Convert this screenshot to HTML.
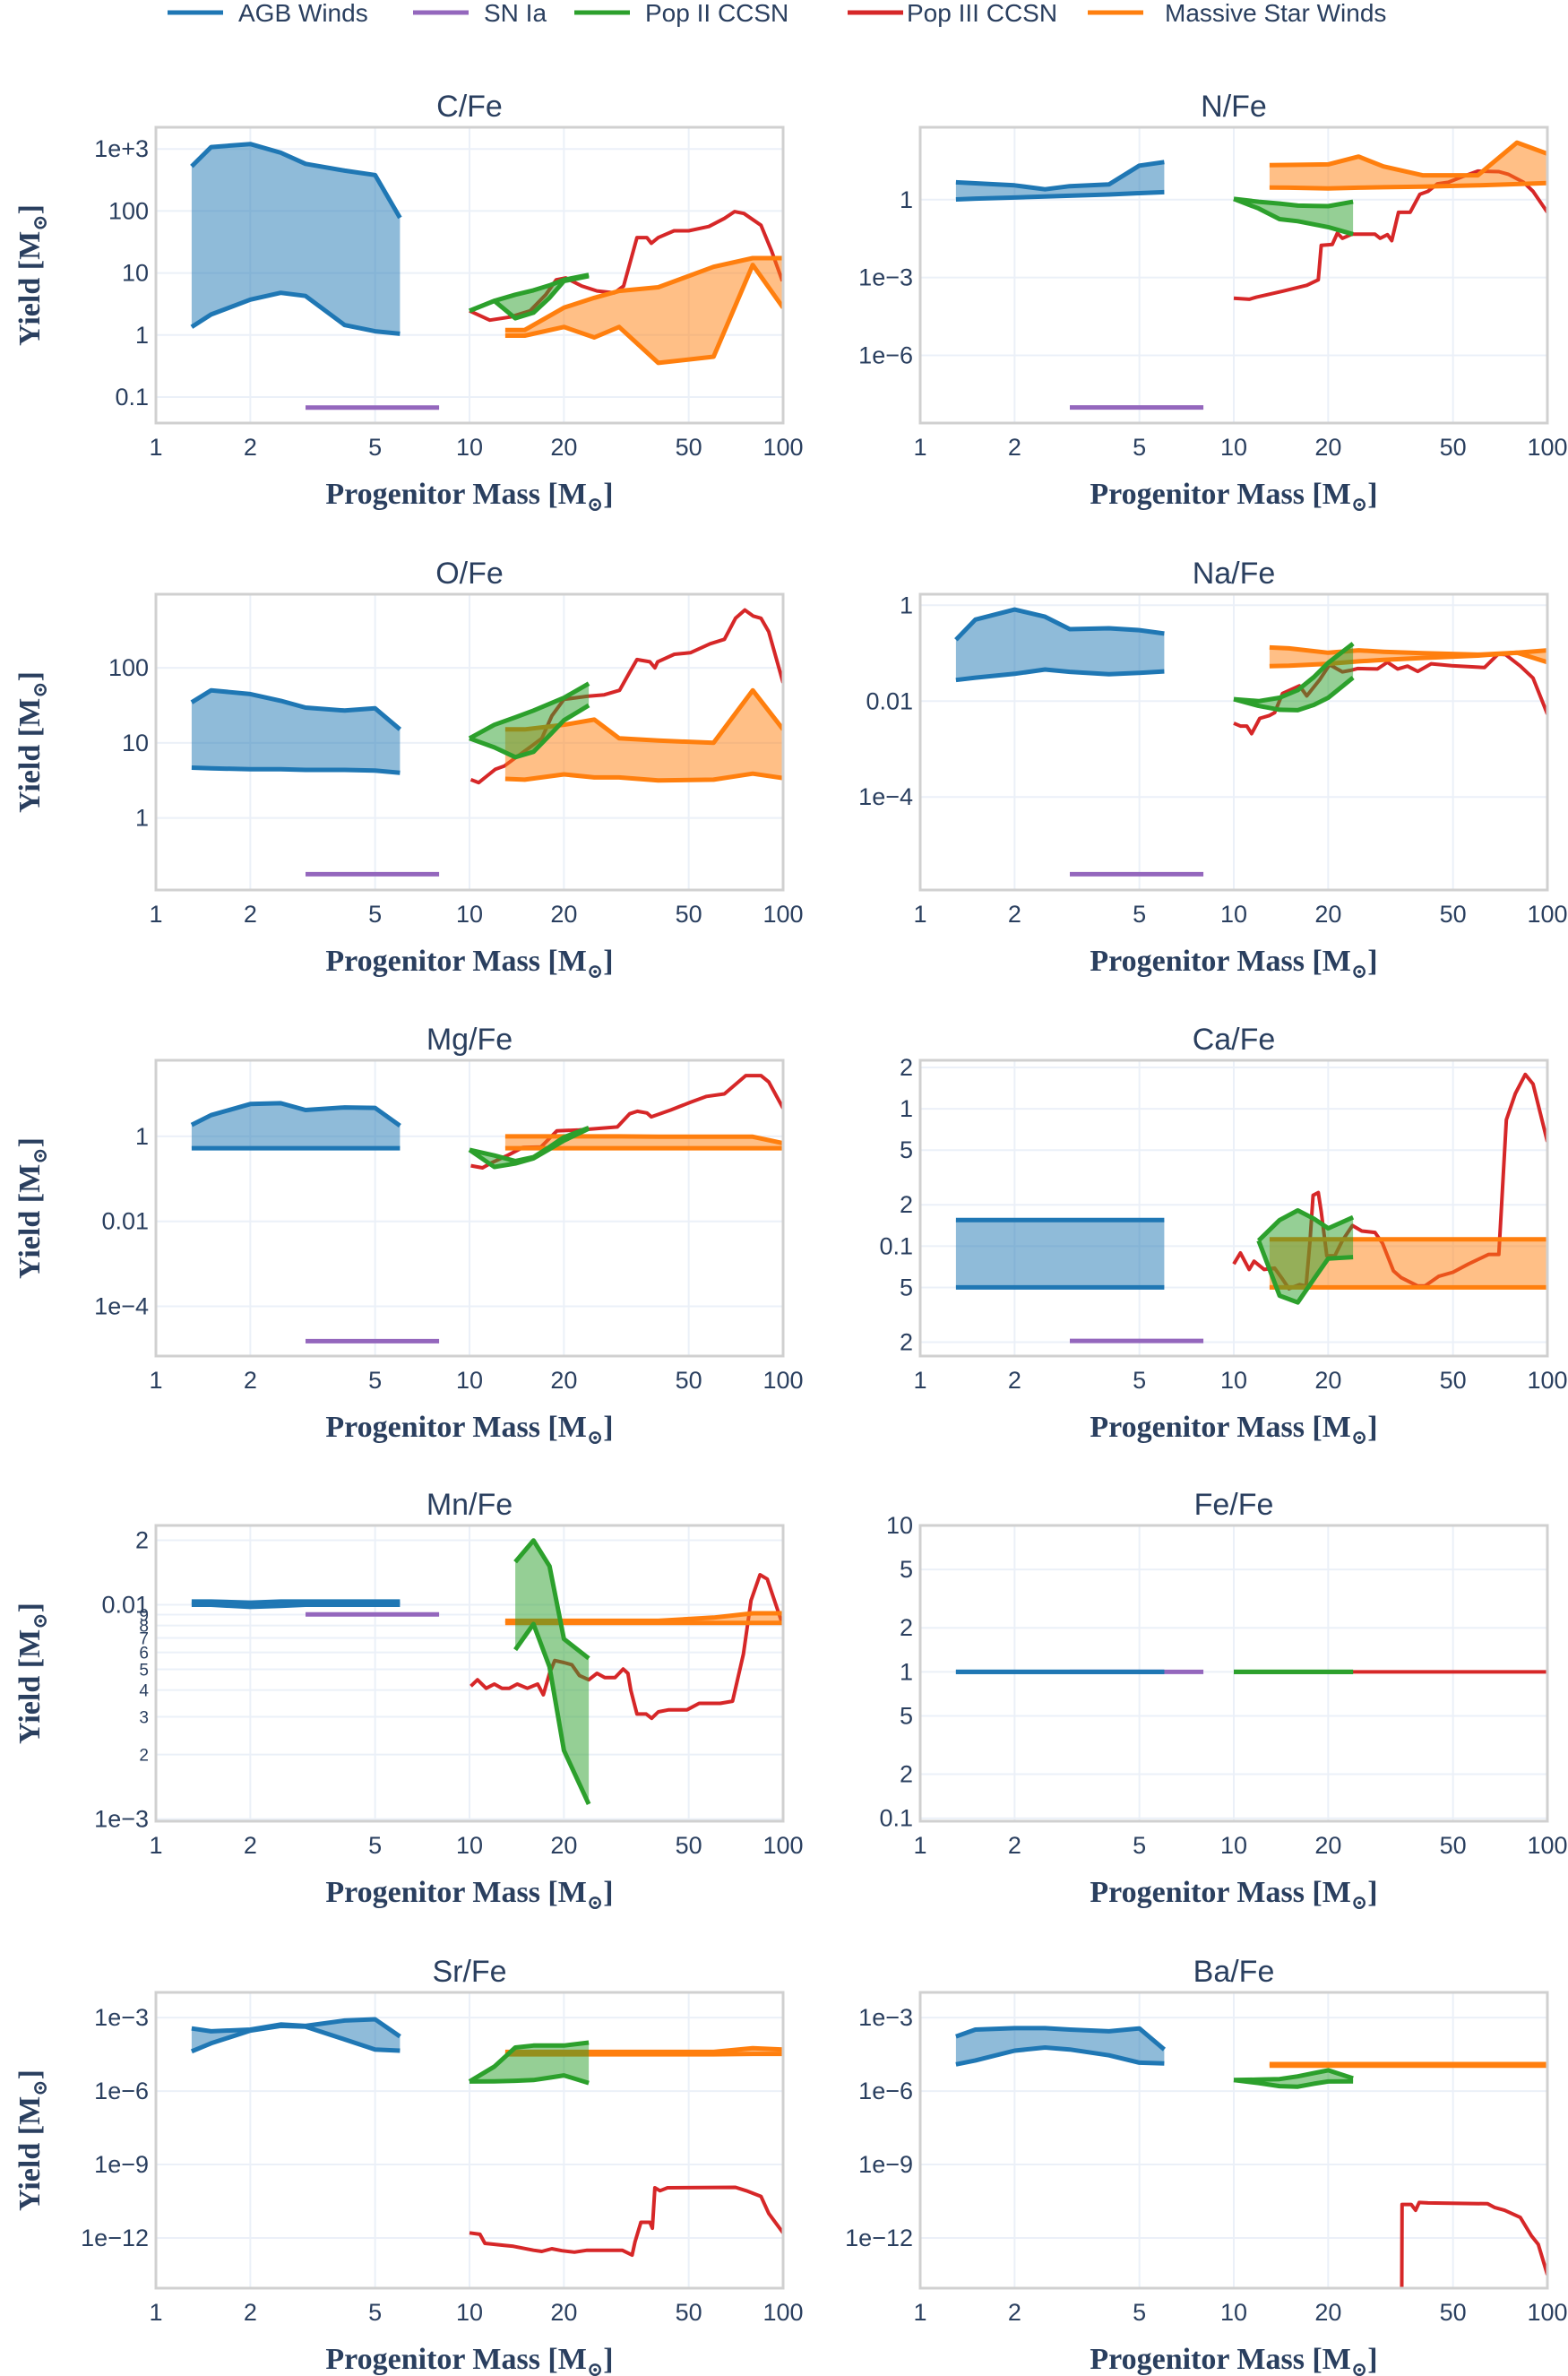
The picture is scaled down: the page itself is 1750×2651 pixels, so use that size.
<!DOCTYPE html>
<html><head><meta charset="utf-8"><style>
html,body{margin:0;padding:0;background:#fff;}
svg{display:block;font-family:"Liberation Sans","DejaVu Sans",sans-serif;}
</style></head><body>
<svg id="fig" width="1750" height="2651" viewBox="0 0 1750 2651" xmlns="http://www.w3.org/2000/svg"></svg>
<script>
// ---- shared masses ----
const agbMass=[1.3,1.5,2,2.5,3,4,5,6];
const snMass=[3,8];
const p2Mass=[10,12,14,16,18,20,24];
const windMass=[13,15,20,25,30,40,60,80,100];
// ---- C/Fe (log10 yields) ----
const cfe_agb_hi=[2.72,3.03,3.08,2.94,2.76,2.65,2.58,1.89];
const cfe_agb_lo=[0.13,0.33,0.57,0.68,0.63,0.16,0.06,0.02];
const cfe_sn=-1.17;
const cfe_p2_hi=[0.39,0.55,0.65,0.72,0.8,0.89,0.97];
const cfe_p2_lo=[0.39,0.55,0.27,0.36,0.6,0.87,0.95];
const cfe_p3_m=[10,11.6,13.5,15.6,17.5,18.9,20.3,22.8,25.5,29,31,34.2,36.8,38,40,44.9,50,58,65,70,75,85,92,99.5];
const cfe_p3_v=[0.39,0.24,0.29,0.39,0.65,0.89,0.92,0.79,0.71,0.68,0.79,1.57,1.57,1.48,1.57,1.68,1.68,1.75,1.88,1.99,1.96,1.77,1.35,0.87];
const cfe_w_hi=[0.08,0.08,0.44,0.6,0.71,0.77,1.1,1.24,1.24];
const cfe_w_lo=[-0.01,-0.01,0.13,-0.04,0.13,-0.45,-0.35,1.13,0.44];
// ---- N/Fe ----
const nfe_agb_hi=[0.67,0.63,0.55,0.40,0.52,0.59,1.31,1.45];
const nfe_agb_lo=[0.01,0.04,0.08,0.12,0.15,0.2,0.25,0.29];
const nfe_sn=-8.01;
const nfe_p2_hi=[0.03,-0.08,-0.15,-0.23,-0.24,-0.25,-0.08];
const nfe_p2_lo=[0.03,-0.34,-0.75,-0.83,-0.95,-1.06,-1.33];
const nfe_p3_m=[10,11.2,11.8,14.3,17.1,18.6,19,20.6,21.4,22.2,23.8,28.2,29.3,30.9,31.9,33.5,36.5,39.2,41.6,44.6,48.3,54,60,70,75,84,90,100];
const nfe_p3_v=[-3.8,-3.84,-3.76,-3.53,-3.3,-3.09,-1.76,-1.73,-1.29,-1.49,-1.33,-1.33,-1.49,-1.35,-1.58,-0.49,-0.49,0.21,0.32,0.61,0.67,0.9,1.1,1.08,0.98,0.67,0.32,-0.49];
const nfe_w_hi=[1.33,1.34,1.36,1.66,1.28,0.94,0.94,2.2,1.77];
const nfe_w_lo=[0.47,0.46,0.43,0.46,0.48,0.5,0.55,0.6,0.64];
// ---- O/Fe ----
const ofe_agb_hi=[1.54,1.70,1.65,1.56,1.47,1.43,1.46,1.18];
const ofe_agb_lo=[0.67,0.66,0.65,0.65,0.64,0.64,0.63,0.60];
const ofe_sn=-0.75;
const ofe_p2_hi=[1.06,1.24,1.34,1.43,1.52,1.6,1.79];
const ofe_p2_lo=[1.06,0.94,0.81,0.88,1.1,1.3,1.5];
const ofe_p3_m=[10.1,10.7,11.3,12.1,12.9,14.1,15.8,17,18.3,20,23.7,26.9,30.1,32.4,34.2,37.6,39,39.8,45,50.6,58.5,65,70.5,75.5,80.2,85,90,100];
const ofe_p3_v=[0.51,0.47,0.55,0.65,0.69,0.81,0.96,1.06,1.36,1.58,1.62,1.64,1.7,1.94,2.11,2.08,2.0,2.08,2.18,2.2,2.32,2.38,2.66,2.77,2.69,2.66,2.48,1.8];
const ofe_w_hi=[1.18,1.18,1.24,1.31,1.06,1.03,1.0,1.7,1.18];
const ofe_w_lo=[0.52,0.51,0.58,0.54,0.54,0.5,0.51,0.59,0.53];
// ---- Na/Fe ----
const nafe_agb_hi=[-0.72,-0.3,-0.09,-0.24,-0.5,-0.48,-0.52,-0.59];
const nafe_agb_lo=[-1.56,-1.51,-1.43,-1.34,-1.39,-1.44,-1.41,-1.38];
const nafe_sn=-5.61;
const nafe_p2_hi=[-1.96,-2.0,-1.93,-1.77,-1.5,-1.2,-0.8];
const nafe_p2_lo=[-1.96,-2.1,-2.18,-2.19,-2.08,-1.93,-1.51];
const nafe_p3_m=[10,10.5,11,11.4,12.1,13,13.5,14.3,16.2,17.1,18.8,20.2,22.2,23.5,24.8,28.7,30.9,33.3,35.8,38.6,42.6,49.5,63,69.6,73.6,82,90,100];
const nafe_p3_v=[-2.46,-2.52,-2.52,-2.68,-2.36,-2.3,-2.24,-1.84,-1.68,-1.89,-1.55,-1.24,-1.39,-1.36,-1.32,-1.33,-1.19,-1.33,-1.27,-1.38,-1.22,-1.26,-1.3,-1.02,-1.03,-1.27,-1.52,-2.27];
const nafe_w_hi=[-0.88,-0.9,-0.99,-0.94,-0.97,-1.0,-1.03,-0.99,-1.19];
const nafe_w_lo=[-1.27,-1.26,-1.22,-1.17,-1.14,-1.1,-1.05,-0.99,-0.94];
// ---- Mg/Fe ----
const mgfe_agb_hi=[0.27,0.5,0.76,0.78,0.62,0.68,0.67,0.25];
const mgfe_agb_lo=[-0.28,-0.28,-0.28,-0.28,-0.28,-0.28,-0.28,-0.28];
const mgfe_sn=-4.82;
const mgfe_p2_hi=[-0.32,-0.45,-0.58,-0.49,-0.25,-0.02,0.2];
const mgfe_p2_lo=[-0.32,-0.72,-0.64,-0.52,-0.3,-0.1,0.18];
const mgfe_p3_m=[10.1,11,11.7,13.3,14.8,16.9,19,22.4,29.6,32.4,34.3,36.8,38,43.8,50.6,57,65,76,85,90,100];
const mgfe_p3_v=[-0.69,-0.74,-0.63,-0.44,-0.26,-0.25,0.13,0.15,0.22,0.53,0.59,0.55,0.46,0.62,0.8,0.94,1.0,1.43,1.43,1.28,0.66];
const mgfe_w_hi=[0,0,0,0,0,-0.01,-0.01,-0.01,-0.16];
const mgfe_w_lo=[-0.28,-0.28,-0.28,-0.28,-0.28,-0.28,-0.28,-0.28,-0.28];
// ---- Ca/Fe ----
const cafe_agb_hi=[-0.81,-0.81,-0.81,-0.81,-0.81,-0.81,-0.81,-0.81];
const cafe_agb_lo=[-1.3,-1.3,-1.3,-1.3,-1.3,-1.3,-1.3,-1.3];
const cafe_sn=-1.69;
const cafe_p2_hi=[null,-0.96,-0.81,-0.74,-0.8,-0.87,-0.79];
const cafe_p2_lo=[null,-0.96,-1.36,-1.41,-1.24,-1.09,-1.08];
const cafe_p3_m=[10,10.5,11.2,11.6,12.5,13.5,14.3,15,16.2,17,17.5,17.9,18.6,19,19.8,21,22.2,23.9,25.6,28.2,29.8,32.3,34.2,38.6,40.7,45,50,56,65,70,74,79,85,90,100];
const cafe_p3_v=[-1.13,-1.05,-1.17,-1.11,-1.17,-1.16,-1.24,-1.31,-1.28,-1.29,-0.96,-0.63,-0.61,-0.75,-1.07,-1.07,-0.96,-0.85,-0.89,-0.9,-0.98,-1.18,-1.23,-1.29,-1.29,-1.22,-1.19,-1.13,-1.06,-1.06,-0.08,0.11,0.25,0.18,-0.24];
const cafe_w_hi=[-0.95,-0.95,-0.95,-0.95,-0.95,-0.95,-0.95,-0.95,-0.95];
const cafe_w_lo=[-1.3,-1.3,-1.3,-1.3,-1.3,-1.3,-1.3,-1.3,-1.3];
// ---- Mn/Fe ----
const mnfe_agb_hi=[-1.985,-1.985,-1.99,-1.985,-1.985,-1.985,-1.985,-1.985];
const mnfe_agb_lo=[-2.0,-2.0,-2.01,-2.005,-2.0,-2.0,-2.0,-2.0];
const mnfe_sn=-2.045;
const mnfe_p2_hi=[null,null,-1.8,-1.70,-1.82,-2.16,-2.25];
const mnfe_p2_lo=[null,null,-2.21,-2.09,-2.29,-2.68,-2.93];
const mnfe_p3_m=[10.1,10.6,11.3,12,12.7,13.4,14.2,15.3,16.5,17.2,18,18.7,20,21.2,22.4,24,25.5,27,29.1,30.9,32,32.7,34.2,36.6,38.1,40,43.2,49.4,54,63,69,74.7,79,84.4,89,99.5];
const mnfe_p3_v=[-2.38,-2.35,-2.39,-2.37,-2.39,-2.39,-2.37,-2.39,-2.37,-2.42,-2.32,-2.26,-2.27,-2.28,-2.33,-2.35,-2.32,-2.34,-2.34,-2.30,-2.32,-2.40,-2.51,-2.51,-2.53,-2.5,-2.49,-2.49,-2.46,-2.46,-2.45,-2.23,-1.98,-1.86,-1.88,-2.09];
const mnfe_w_hi=[-2.075,-2.075,-2.075,-2.075,-2.075,-2.075,-2.06,-2.04,-2.04];
const mnfe_w_lo=[-2.085,-2.085,-2.085,-2.085,-2.085,-2.085,-2.085,-2.085,-2.085];
// ---- Fe/Fe ----
const fefe_agb_hi=[0,0,0,0,0,0,0,0];
const fefe_agb_lo=[0,0,0,0,0,0,0,0];
const fefe_sn=0;
const fefe_p2_hi=[0,0,0,0,0,0,0];
const fefe_p2_lo=[0,0,0,0,0,0,0];
const fefe_p3_m=[10,100];
const fefe_p3_v=[0,0];
// ---- Sr/Fe ----
const srfe_agb_hi=[-3.44,-3.56,-3.49,-3.28,-3.34,-3.12,-3.07,-3.77];
const srfe_agb_lo=[-4.38,-4.05,-3.53,-3.34,-3.37,-3.89,-4.3,-4.35];
const srfe_p2_hi=[-5.61,-5.0,-4.22,-4.14,-4.14,-4.14,-4.02];
const srfe_p2_lo=[-5.61,-5.6,-5.58,-5.55,-5.45,-5.36,-5.67];
const srfe_p3_m=[10,10.8,11.2,12.9,13.8,16,17,18.3,19.7,21.6,23.7,30.7,33,33.7,35.2,37.6,38.3,39,40.5,42.8,70.5,76.3,85,90,100];
const srfe_p3_v=[-11.79,-11.85,-12.22,-12.3,-12.34,-12.5,-12.55,-12.44,-12.52,-12.58,-12.5,-12.5,-12.7,-12.16,-11.36,-11.36,-11.6,-9.95,-10.07,-9.95,-9.93,-10.07,-10.3,-11.0,-11.79];
const srfe_w_hi=[-4.4,-4.4,-4.4,-4.4,-4.4,-4.4,-4.4,-4.25,-4.3];
const srfe_w_lo=[-4.5,-4.5,-4.5,-4.5,-4.5,-4.5,-4.5,-4.48,-4.48];
// ---- Ba/Fe ----
const bafe_agb_hi=[-3.77,-3.49,-3.43,-3.43,-3.49,-3.56,-3.44,-4.3];
const bafe_agb_lo=[-4.91,-4.75,-4.35,-4.22,-4.3,-4.54,-4.84,-4.87];
const bafe_p2_hi=[-5.55,-5.53,-5.51,-5.4,-5.27,-5.15,-5.48];
const bafe_p2_lo=[-5.55,-5.67,-5.8,-5.82,-5.7,-5.61,-5.6];
const bafe_p3_m=[34.3,34.4,36.8,38,39,41.6,64.5,68,73,82,89,93.5,100];
const bafe_p3_v=[-15,-10.63,-10.63,-10.87,-10.55,-10.57,-10.6,-10.76,-10.87,-11.16,-11.92,-12.26,-13.5];
const bafe_w_hi=[-4.9,-4.9,-4.9,-4.9,-4.9,-4.9,-4.9,-4.9,-4.9];
const bafe_w_lo=[-4.96,-4.96,-4.96,-4.96,-4.96,-4.96,-4.96,-4.96,-4.96];
// ---- tick labels ----
const xTickVals=[1,2,5,10,20,50,100];
const xTickLabels=["1","2","5","10","20","50","100"];
const cfeTicks=[3,2,1,0,-1]; const cfeTickLabels=["1e+3","100","10","1","0.1"];
const nfeTicks=[0,-3,-6]; const nfeTickLabels=["1","1e−3","1e−6"];
const ofeTicks=[2,1,0]; const ofeTickLabels=["100","10","1"];
const nafeTicks=[0,-2,-4]; const nafeTickLabels=["1","0.01","1e−4"];
const mgfeTicks=[0,-2,-4]; const mgfeTickLabels=["1","0.01","1e−4"];
const cafeTicks=[0.301,0,-0.301,-0.699,-1,-1.301,-1.699]; const cafeTickLabels=["2","1","5","2","0.1","5","2"];
const mnfeTicks=[-1.699,-2,-2.046,-2.097,-2.155,-2.222,-2.301,-2.398,-2.523,-2.699,-3]; const mnfeTickLabels=["2","0.01","9","8","7","6","5","4","3","2","1e−3"];
const fefeTicks=[1,0.699,0.301,0,-0.301,-0.699,-1]; const fefeTickLabels=["10","5","2","1","5","2","0.1"];
const srfeTicks=[-3,-6,-9,-12]; const srfeTickLabels=["1e−3","1e−6","1e−9","1e−12"];
const bafeTicks=[-3,-6,-9,-12]; const bafeTickLabels=["1e−3","1e−6","1e−9","1e−12"];

const C={blue:"#1f77b4",purple:"#9467bd",green:"#2ca02c",red:"#d62728",orange:"#ff7f0e",txt:"#2a3f5f"};
const NS="http://www.w3.org/2000/svg";
const svg=document.getElementById('fig');
function mk(tag,attrs,parent){const e=document.createElementNS(NS,tag);for(const k in attrs)e.setAttribute(k,attrs[k]);(parent||svg).appendChild(e);return e;}

const colX=[174,1027], plotW=700, plotH=330;
const rowY=[142,663,1183,1702,2223];
const panels=[
 {key:"c",title:"C/Fe",r:0,c:0,yr:[-1.42,3.35],tv:cfeTicks,tl:cfeTickLabels,ah:cfe_agb_hi,al:cfe_agb_lo,sn:cfe_sn,ph:cfe_p2_hi,pl:cfe_p2_lo,rm:cfe_p3_m,rv:cfe_p3_v,wh:cfe_w_hi,wl:cfe_w_lo},
 {key:"n",title:"N/Fe",r:0,c:1,yr:[-8.61,2.79],tv:nfeTicks,tl:nfeTickLabels,ah:nfe_agb_hi,al:nfe_agb_lo,sn:nfe_sn,ph:nfe_p2_hi,pl:nfe_p2_lo,rm:nfe_p3_m,rv:nfe_p3_v,wh:nfe_w_hi,wl:nfe_w_lo},
 {key:"o",title:"O/Fe",r:1,c:0,yr:[-0.96,2.98],tv:ofeTicks,tl:ofeTickLabels,ah:ofe_agb_hi,al:ofe_agb_lo,sn:ofe_sn,ph:ofe_p2_hi,pl:ofe_p2_lo,rm:ofe_p3_m,rv:ofe_p3_v,wh:ofe_w_hi,wl:ofe_w_lo},
 {key:"na",title:"Na/Fe",r:1,c:1,yr:[-5.94,0.23],tv:nafeTicks,tl:nafeTickLabels,ah:nafe_agb_hi,al:nafe_agb_lo,sn:nafe_sn,ph:nafe_p2_hi,pl:nafe_p2_lo,rm:nafe_p3_m,rv:nafe_p3_v,wh:nafe_w_hi,wl:nafe_w_lo},
 {key:"mg",title:"Mg/Fe",r:2,c:0,yr:[-5.17,1.79],tv:mgfeTicks,tl:mgfeTickLabels,ah:mgfe_agb_hi,al:mgfe_agb_lo,sn:mgfe_sn,ph:mgfe_p2_hi,pl:mgfe_p2_lo,rm:mgfe_p3_m,rv:mgfe_p3_v,wh:mgfe_w_hi,wl:mgfe_w_lo},
 {key:"ca",title:"Ca/Fe",r:2,c:1,yr:[-1.80,0.353],tv:cafeTicks,tl:cafeTickLabels,ah:cafe_agb_hi,al:cafe_agb_lo,sn:cafe_sn,ph:cafe_p2_hi,pl:cafe_p2_lo,rm:cafe_p3_m,rv:cafe_p3_v,wh:cafe_w_hi,wl:cafe_w_lo},
 {key:"mn",title:"Mn/Fe",r:3,c:0,yr:[-3.01,-1.63],tv:mnfeTicks,tl:mnfeTickLabels,ah:mnfe_agb_hi,al:mnfe_agb_lo,sn:mnfe_sn,ph:mnfe_p2_hi,pl:mnfe_p2_lo,rm:mnfe_p3_m,rv:mnfe_p3_v,wh:mnfe_w_hi,wl:mnfe_w_lo,minor:true},
 {key:"fe",title:"Fe/Fe",r:3,c:1,yr:[-1.02,1.0],tv:fefeTicks,tl:fefeTickLabels,ah:fefe_agb_hi,al:fefe_agb_lo,sn:fefe_sn,ph:fefe_p2_hi,pl:fefe_p2_lo,rm:fefe_p3_m,rv:fefe_p3_v,wh:null,wl:null},
 {key:"sr",title:"Sr/Fe",r:4,c:0,yr:[-14.05,-1.97],tv:srfeTicks,tl:srfeTickLabels,ah:srfe_agb_hi,al:srfe_agb_lo,sn:null,ph:srfe_p2_hi,pl:srfe_p2_lo,rm:srfe_p3_m,rv:srfe_p3_v,wh:srfe_w_hi,wl:srfe_w_lo},
 {key:"ba",title:"Ba/Fe",r:4,c:1,yr:[-14.05,-1.97],tv:bafeTicks,tl:bafeTickLabels,ah:bafe_agb_hi,al:bafe_agb_lo,sn:null,ph:bafe_p2_hi,pl:bafe_p2_lo,rm:bafe_p3_m,rv:bafe_p3_v,wh:bafe_w_hi,wl:bafe_w_lo}
];

// legend
const legendItems=[["AGB Winds",C.blue,187,266],["SN Ia",C.purple,461,540],["Pop II CCSN",C.green,641,720],["Pop III CCSN",C.red,946,1012],["Massive Star Winds",C.orange,1214,1300]];
const lg=mk('g',{});


legendItems.forEach(it=>{
  const g=mk('g',{},lg);
  
  
  mk('line',{x1:it[2],x2:it[2]+62,y1:14,y2:14,stroke:it[1],'stroke-width':5},g);
  const t=mk('text',{x:it[3],y:24,'font-size':28,fill:C.txt},g);t.textContent=it[0];
});

function ptsStr(ms,vs,sx,sy){const a=[];for(let i=0;i<ms.length;i++){if(vs[i]===null)continue;a.push(sx(ms[i]).toFixed(1)+","+sy(vs[i]).toFixed(1));}return a;}

panels.forEach((p,pi)=>{
  const x0=colX[p.c], y0=rowY[p.r];
  const sx=m=>x0+Math.log10(m)/2*plotW;
  const sy=v=>y0+plotH-(v-p.yr[0])/(p.yr[1]-p.yr[0])*plotH;
  const g=mk('g',{});
  
  
  const tt=mk('text',{x:x0+plotW/2,y:y0-12,'font-size':34,fill:C.txt,'text-anchor':'middle'},g);
  
  
  tt.textContent=p.title;
  xTickVals.forEach((v,i)=>{
    mk('line',{x1:sx(v),x2:sx(v),y1:y0,y2:y0+plotH,stroke:'#ebf0f8','stroke-width':2},g);
    const t=mk('text',{x:sx(v),y:y0+plotH+36,'font-size':27,fill:C.txt,'text-anchor':'middle'},g);
    
    
    t.textContent=xTickLabels[i];
  });
  p.tv.forEach((v,i)=>{
    mk('line',{x1:x0,x2:x0+plotW,y1:sy(v),y2:sy(v),stroke:'#ebf0f8','stroke-width':2},g);
    const small=p.minor && i>=2 && i<=9;
    const t=mk('text',{x:x0-8,y:sy(v)+(small?7:9),'font-size':small?19:27,fill:C.txt,'text-anchor':'end'},g);
    
    
    t.textContent=p.tl[i];
  });
  const cp=mk('clipPath',{id:'clip'+pi},g);
  mk('rect',{x:x0,y:y0,width:plotW,height:plotH},cp);
  const d=mk('g',{'clip-path':'url(#clip'+pi+')'},g);
  const band=(ms,hi,lo,col,name)=>{
    const up=ptsStr(ms,hi,sx,sy), dn=ptsStr(ms,lo,sx,sy).reverse();
    const poly=mk('polygon',{points:up.concat(dn).join(' '),fill:col,'fill-opacity':0.5,stroke:'none'},d);
    
    
    const l1=mk('polyline',{points:up.join(' '),fill:'none',stroke:col,'stroke-width':5,'stroke-linejoin':'round'},d);
    
    
    const l2=mk('polyline',{points:ptsStr(ms,lo,sx,sy).join(' '),fill:'none',stroke:col,'stroke-width':5,'stroke-linejoin':'round'},d);
    
    
  };
  if(p.sn!==null){
    const l=mk('line',{x1:sx(snMass[0]),x2:sx(snMass[1]),y1:sy(p.sn),y2:sy(p.sn),stroke:C.purple,'stroke-width':5},d);
    
    
  }
  const rl=mk('polyline',{points:ptsStr(p.rm,p.rv,sx,sy).join(' '),fill:'none',stroke:C.red,'stroke-width':4,'stroke-linejoin':'round'},d);
  
  
  if(p.wh) band(windMass,p.wh,p.wl,C.orange,'massive-star-winds');
  band(p2Mass,p.ph,p.pl,C.green,'pop-ii-ccsn');
  band(agbMass,p.ah,p.al,C.blue,'agb-winds');
  mk('rect',{x:x0,y:y0,width:plotW,height:plotH,fill:'none',stroke:'#d0d0d0','stroke-width':3},g);
  const xt=mk('text',{x:x0+plotW/2,y:y0+plotH+90,'font-size':34,'font-weight':'bold',fill:C.txt,'text-anchor':'middle','font-family':'"Liberation Serif","DejaVu Serif",serif'},g);
  
  
  xt.innerHTML='Progenitor Mass [M<tspan font-size="22" dy="8">⊙</tspan><tspan dy="-8">]</tspan>';
  if(p.c===0){
    const cy=y0+plotH/2;
    const yt=mk('text',{x:0,y:0,transform:'translate(44,'+cy+') rotate(-90)','font-size':34,'font-weight':'bold',fill:C.txt,'text-anchor':'middle','font-family':'"Liberation Serif","DejaVu Serif",serif'},g);
    
    
    yt.innerHTML='Yield [M<tspan font-size="22" dy="8">⊙</tspan><tspan dy="-8">]</tspan>';
  }
});
</script>
</body></html>
